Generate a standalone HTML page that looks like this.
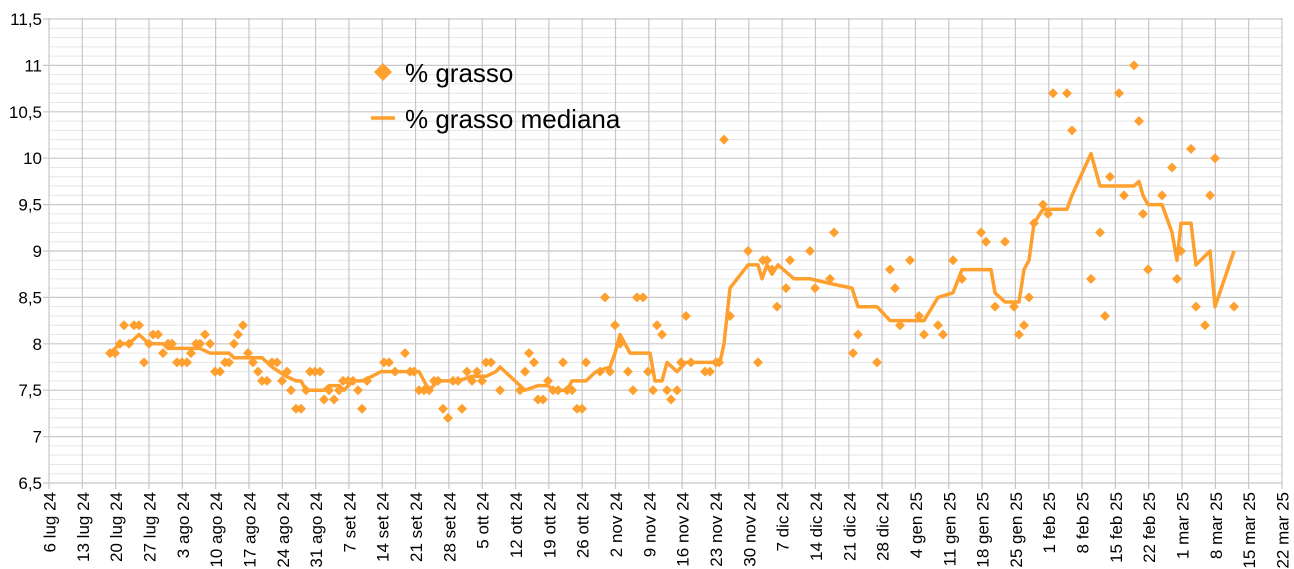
<!DOCTYPE html>
<html><head><meta charset="utf-8"><style>
html,body{margin:0;padding:0;background:#fff;width:1294px;height:569px;overflow:hidden}
svg{display:block;font-family:"Liberation Sans",Arial,sans-serif}
</style></head><body>
<svg id="c" width="1294" height="569" xmlns="http://www.w3.org/2000/svg"></svg>
<script>
const s=document.getElementById('c');const NS='http://www.w3.org/2000/svg';
function el(t,a,txt){const e=document.createElementNS(NS,t);for(const k in a)e.setAttribute(k,a[k]);if(txt!==undefined)e.textContent=txt;s.appendChild(e);return e;}
const X0=49,X1=1282,W=(X1-X0)/37;
const Y=v=>483-(v-6.5)*92.8;
for(let i=0;i<=50;i++){const y=483-i*9.28;if(i%5)el('line',{x1:X0,x2:X1,y1:y,y2:y,stroke:'#e6e6e6','stroke-width':1});}
for(let i=0;i<=10;i++){const y=483-i*46.4;el('line',{x1:X0-6,x2:X1,y1:y,y2:y,stroke:'#c8c8c8','stroke-width':1.2});
 const v=6.5+i*0.5;el('text',{x:42,y:y+6,'text-anchor':'end','font-size':17,fill:'#000'},String(v).replace('.',','));}
const labels=['6 lug 24','13 lug 24','20 lug 24','27 lug 24','3 ago 24','10 ago 24','17 ago 24','24 ago 24','31 ago 24','7 set 24','14 set 24','21 set 24','28 set 24','5 ott 24','12 ott 24','19 ott 24','26 ott 24','2 nov 24','9 nov 24','16 nov 24','23 nov 24','30 nov 24','7 dic 24','14 dic 24','21 dic 24','28 dic 24','4 gen 25','11 gen 25','18 gen 25','25 gen 25','1 feb 25','8 feb 25','15 feb 25','22 feb 25','1 mar 25','8 mar 25','15 mar 25','22 mar 25'];
labels.forEach((l,i)=>{const x=X0+i*W;el('line',{x1:x,x2:x,y1:18,y2:489,stroke:'#c8c8c8','stroke-width':1.2});
 el('text',{transform:`translate(${x+6.5},492) rotate(-90)`,'text-anchor':'end','font-size':17,fill:'#000'},l);});
const C='#ff9f2e';
const P=[[110,7.9],[115,7.9],[120,8.0],[124,8.2],[129,8.0],[134,8.2],[139,8.2],[144,7.8],[149,8.0],[153,8.1],[158,8.1],[163,7.9],[168,8.0],[172,8.0],[177,7.8],[182,7.8],[187,7.8],[191,7.9],[196,8.0],[200,8.0],[205,8.1],[210,8.0],[215,7.7],[220,7.7],[225,7.8],[229,7.8],[234,8.0],[238,8.1],[243,8.2],[248,7.9],[253,7.8],[258,7.7],[262,7.6],[267,7.6],[272,7.8],[277,7.8],[282,7.6],[287,7.7],[291,7.5],[296,7.3],[301,7.3],[306,7.5],[310,7.7],[315,7.7],[320,7.7],[324,7.4],[329,7.5],[334,7.4],[339,7.5],[343,7.6],[348,7.6],[353,7.6],[358,7.5],[362,7.3],[367,7.6],[384,7.8],[389,7.8],[395,7.7],[405,7.9],[410,7.7],[414,7.7],[419,7.5],[424,7.5],[429,7.5],[434,7.6],[438,7.6],[443,7.3],[448,7.2],[453,7.6],[458,7.6],[462,7.3],[467,7.7],[472,7.6],[477,7.7],[482,7.6],[486,7.8],[491,7.8],[500,7.5],[520,7.5],[525,7.7],[529,7.9],[534,7.8],[538,7.4],[543,7.4],[548,7.6],[553,7.5],[558,7.5],[563,7.8],[567,7.5],[572,7.5],[577,7.3],[582,7.3],[586,7.8],[600,7.7],[605,8.5],[610,7.7],[615,8.2],[620,8.0],[628,7.7],[633,7.5],[637,8.5],[643,8.5],[648,7.7],[653,7.5],[657,8.2],[662,8.1],[667,7.5],[671,7.4],[677,7.5],[681,7.8],[686,8.3],[691,7.8],[705,7.7],[710,7.7],[716,7.8],[719,7.8],[724,10.2],[730,8.3],[748,9.0],[758,7.8],[763,8.9],[767,8.9],[772,8.8],[777,8.4],[786,8.6],[790,8.9],[810,9.0],[815,8.6],[830,8.7],[834,9.2],[853,7.9],[858,8.1],[877,7.8],[890,8.8],[895,8.6],[900,8.2],[910,8.9],[919,8.3],[924,8.1],[938,8.2],[943,8.1],[953,8.9],[962,8.7],[981,9.2],[986,9.1],[995,8.4],[1005,9.1],[1014,8.4],[1019,8.1],[1024,8.2],[1029,8.5],[1034,9.3],[1043,9.5],[1048,9.4],[1053,10.7],[1067,10.7],[1072,10.3],[1091,8.7],[1100,9.2],[1105,8.3],[1110,9.8],[1119,10.7],[1124,9.6],[1134,11.0],[1139,10.4],[1143,9.4],[1148,8.8],[1162,9.6],[1172,9.9],[1177,8.7],[1181,9.0],[1191,10.1],[1196,8.4],[1205,8.2],[1210,9.6],[1215,10.0],[1234,8.4]];
const M=[[110,7.9],[120,8.0],[129,8.0],[139,8.1],[149,8.0],[163,8.0],[168,7.95],[200,7.95],[210,7.9],[229,7.9],[234,7.85],[262,7.85],[272,7.75],[286,7.65],[296,7.6],[301,7.6],[306,7.5],[324,7.5],[329,7.55],[339,7.55],[344,7.5],[353,7.6],[362,7.6],[372,7.65],[381,7.7],[419,7.7],[429,7.5],[438,7.6],[458,7.6],[472,7.65],[486,7.65],[496,7.7],[500,7.75],[515,7.6],[525,7.5],[538,7.55],[548,7.55],[553,7.5],[567,7.5],[572,7.6],[586,7.6],[596,7.7],[610,7.75],[615,7.9],[620,8.1],[630,7.9],[650,7.9],[655,7.6],[662,7.6],[667,7.8],[677,7.7],[686,7.8],[720,7.8],[724,8.0],[730,8.6],[748,8.85],[758,8.85],[762,8.7],[767,8.85],[772,8.75],[778,8.85],[794,8.7],[810,8.7],[830,8.65],[852,8.6],[858,8.4],[877,8.4],[890,8.25],[924,8.25],[938,8.5],[953,8.55],[962,8.8],[991,8.8],[995,8.55],[1005,8.45],[1019,8.45],[1024,8.8],[1029,8.9],[1034,9.3],[1043,9.45],[1067,9.45],[1072,9.6],[1091,10.05],[1100,9.7],[1134,9.7],[1139,9.75],[1143,9.6],[1148,9.5],[1162,9.5],[1172,9.2],[1177,8.9],[1181,9.3],[1191,9.3],[1196,8.85],[1210,9.0],[1215,8.4],[1234,9.0]];
el('polyline',{points:M.map(p=>p[0]+','+Y(p[1]).toFixed(1)).join(' '),fill:'none',stroke:C,'stroke-width':3.5,'stroke-linejoin':'round'});
const d=5;
P.forEach(p=>{const x=p[0],y=Y(p[1]);el('polygon',{points:`${x},${y-d} ${x+d},${y} ${x},${y+d} ${x-d},${y}`,fill:C});});
el('polygon',{points:'383,63 392,72 383,81 374,72',fill:C});
el('text',{x:405,y:82,'font-size':26,fill:'#000'},'% grasso');
el('line',{x1:371,x2:395,y1:118,y2:118,stroke:C,'stroke-width':3.5});
el('text',{x:405,y:128,'font-size':26,fill:'#000'},'% grasso mediana');
</script>
</body></html>
